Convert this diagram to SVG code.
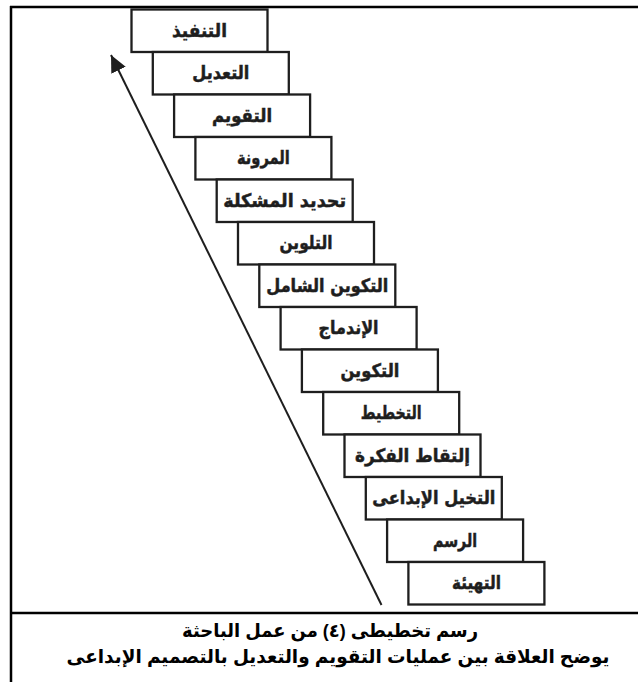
<svg xmlns="http://www.w3.org/2000/svg" width="638" height="682" viewBox="0 0 638 682">
<defs>
<style>
.box rect{fill:#fff;stroke:#1e1e1e;stroke-width:2.3}
.box text{font-family:"DejaVu Sans",sans-serif;font-weight:bold;font-size:18.5px;fill:#1e1e1e;stroke:#1e1e1e;stroke-width:0.5;text-anchor:middle;direction:rtl}
.frame{stroke:#000;stroke-width:2.5;fill:none}
.cap{font-family:"Liberation Sans","DejaVu Sans",sans-serif;font-weight:bold;font-size:19px;fill:#000;text-anchor:middle;direction:rtl}
</style>
<marker id="ah" markerUnits="userSpaceOnUse" markerWidth="18" markerHeight="16" refX="17" refY="8" orient="auto">
<path d="M0,0 L17,8 L0,16 z" fill="#1e1e1e"/>
</marker>
</defs>
<rect x="0" y="0" width="638" height="682" fill="#fff"/>
<g id="frame">
<line class="frame" x1="10" y1="7" x2="638" y2="7"/>
<line class="frame" x1="11" y1="6" x2="11" y2="682"/>
<line class="frame" x1="10" y1="613" x2="638" y2="613"/>
</g>
<g id="connectors">
<line x1="381.5" y1="605" x2="111" y2="55" stroke="#1e1e1e" stroke-width="2" marker-end="url(#ah)"/>
</g>
<g id="n1" class="box"><rect x="131.5" y="9.5" width="136" height="42.5"/><text x="199.5" y="36.5" textLength="55" lengthAdjust="spacingAndGlyphs">التنفيذ</text></g>
<g id="n2" class="box"><rect x="152.8" y="52" width="136" height="42.5"/><text x="220.8" y="79" textLength="57" lengthAdjust="spacingAndGlyphs">التعديل</text></g>
<g id="n3" class="box"><rect x="174.1" y="94.5" width="136" height="42.5"/><text x="242.1" y="121.5" textLength="60" lengthAdjust="spacingAndGlyphs">التقويم</text></g>
<g id="n4" class="box"><rect x="195.4" y="137" width="136" height="42.5"/><text x="263.4" y="164" textLength="53" lengthAdjust="spacingAndGlyphs">المرونة</text></g>
<g id="n5" class="box"><rect x="216.7" y="179.5" width="136" height="42.5"/><text x="284.7" y="206.5" textLength="123" lengthAdjust="spacingAndGlyphs">تحديد المشكلة</text></g>
<g id="n6" class="box"><rect x="238" y="222" width="136" height="42.5"/><text x="306" y="249" textLength="53" lengthAdjust="spacingAndGlyphs">التلوين</text></g>
<g id="n7" class="box"><rect x="259.3" y="264.5" width="136" height="42.5"/><text x="327.3" y="291.5" textLength="122" lengthAdjust="spacingAndGlyphs">التكوين الشامل</text></g>
<g id="n8" class="box"><rect x="280.6" y="307" width="136" height="42.5"/><text x="348.6" y="334" textLength="60" lengthAdjust="spacingAndGlyphs">الإندماج</text></g>
<g id="n9" class="box"><rect x="301.9" y="349.5" width="136" height="42.5"/><text x="369.9" y="376.5" textLength="59" lengthAdjust="spacingAndGlyphs">التكوين</text></g>
<g id="n10" class="box"><rect x="323.2" y="392" width="136" height="42.5"/><text x="391.2" y="419" textLength="61" lengthAdjust="spacingAndGlyphs">التخطيط</text></g>
<g id="n11" class="box"><rect x="344.5" y="434.5" width="136" height="42.5"/><text x="412.5" y="461.5" textLength="115" lengthAdjust="spacingAndGlyphs">إلتقاط الفكرة</text></g>
<g id="n12" class="box"><rect x="365.8" y="477" width="136" height="42.5"/><text x="433.8" y="504" textLength="123" lengthAdjust="spacingAndGlyphs">التخيل الإبداعى</text></g>
<g id="n13" class="box"><rect x="387.1" y="519.5" width="136" height="42.5"/><text x="455.1" y="546.5" textLength="44" lengthAdjust="spacingAndGlyphs">الرسم</text></g>
<g id="n14" class="box"><rect x="408.4" y="562" width="136" height="42.5"/><text x="476.4" y="589" textLength="49" lengthAdjust="spacingAndGlyphs">التهيئة</text></g>
<g id="caption">
<text class="cap" x="330" y="637" textLength="296" lengthAdjust="spacingAndGlyphs">رسم تخطيطى (٤) من عمل الباحثة</text>
<text class="cap" x="338" y="663" textLength="543" lengthAdjust="spacingAndGlyphs">يوضح العلاقة بين عمليات التقويم والتعديل بالتصميم الإبداعى</text>
</g>
</svg>
